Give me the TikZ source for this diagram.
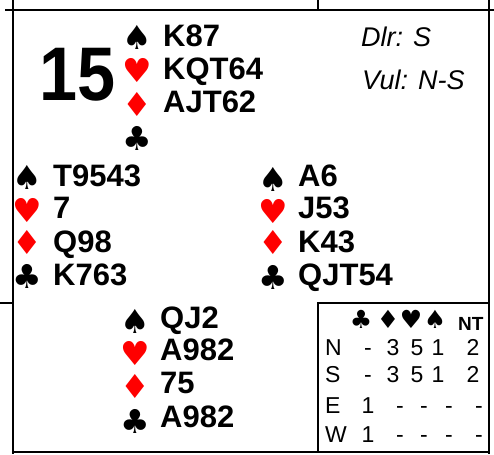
\documentclass[tikz,border=0pt]{standalone}
\usepackage{fontspec}
\setmainfont{Liberation Sans}
\newfontfamily\suitfamily{DejaVu Sans}
\usepackage{tikz}

\newcommand{\handfont}{\fontsize{31}{31}\selectfont\bfseries}
\newcommand{\suitfont}{\suitfamily\fontsize{33}{33}\selectfont}
\newcommand{\infofont}{\fontsize{27}{27}\selectfont\itshape}
\newcommand{\tabfont}{\fontsize{23}{23}\selectfont}
\newcommand{\tabsuitfont}{\suitfamily\fontsize{25}{25}\selectfont}

\tikzset{
    frame/.style={line width=1.6pt},
    hand/.style={font=\handfont, anchor=base west, inner sep=0pt},
    suit/.style={font=\suitfont, inner sep=0pt},
    redsuit/.style={suit, text=red},
    info/.style={font=\infofont, anchor=base west, inner sep=0pt},
    tab/.style={font=\tabfont, anchor=base, inner sep=0pt},
    tabsuit/.style={font=\tabsuitfont, inner sep=0pt},
}

\begin{document}
\begin{tikzpicture}[x=1pt,y=-1pt]
        \useasboundingbox (0,0) rectangle (494,454);

        % Frame of the deal
        \draw[frame] (5,10) -- (494,10);
        \draw[frame] (13,0) -- (13,454);
        \draw[frame] (489,0) -- (489,454);
        \draw[frame] (318,0) -- (318,10);
        \draw[frame] (0,303) -- (13,303);
        \draw[frame] (13,452) -- (489,452);

        % Box of the makeable contracts
        \draw[frame] (318,452) -- (318,303) -- (489,303);

        % Board number
        \node[font=\fontsize{76}{76}\selectfont\bfseries, inner sep=0pt,
              transform shape, xscale=0.9] (board) at (78,75) {15};

        % Dealer and vulnerability
        \node[info] (dealer) at (361,47) {Dlr: S};
        \node[info] (vul) at (362,90) {Vul: N-S};

        % North hand
        \node[suit] (NS) at (137,37) {♠};
        \node[redsuit] (NH) at (137,70) {♥};
        \node[redsuit] (ND) at (137,104) {♦};
        \node[suit] (NC) at (137,138) {♣};
        \node[hand] (Nspades) at (163,47) {K87};
        \node[hand] (Nhearts) at (163,80) {KQT64};
        \node[hand] (Ndiamonds) at (163,113) {AJT62};

        % West hand
        \node[suit] (WS) at (27,177) {♠};
        \node[redsuit] (WH) at (27,210) {♥};
        \node[redsuit] (WD) at (27,242) {♦};
        \node[suit] (WC) at (27,276) {♣};
        \node[hand] (Wspades) at (53,186) {T9543};
        \node[hand] (Whearts) at (53,218) {7};
        \node[hand] (Wdiamonds) at (53,252) {Q98};
        \node[hand] (Wclubs) at (53,285) {K763};

        % East hand
        \node[suit] (ES) at (273,179) {♠};
        \node[redsuit] (EH) at (273,211) {♥};
        \node[redsuit] (ED) at (273,242) {♦};
        \node[suit] (EC) at (273,277) {♣};
        \node[hand] (Espades) at (298,186) {A6};
        \node[hand] (Ehearts) at (298,218) {J53};
        \node[hand] (Ediamonds) at (298,252) {K43};
        \node[hand] (Eclubs) at (298,285) {QJT54};

        % South hand
        \node[suit] (SS) at (135,321) {♠};
        \node[redsuit] (SH) at (135,353) {♥};
        \node[redsuit] (SD) at (135,386) {♦};
        \node[suit] (SC) at (135,421) {♣};
        \node[hand] (Sspades) at (160,328) {QJ2};
        \node[hand] (Shearts) at (160,360) {A982};
        \node[hand] (Sdiamonds) at (160,393) {75};
        \node[hand] (Sclubs) at (160,427) {A982};

        % Header of the table
        \node[tabsuit] (TC) at (361,319) {♣};
        \node[tabsuit] (TD) at (388,319) {♦};
        \node[tabsuit] (TH) at (411,319) {♥};
        \node[tabsuit] (TS) at (435,319) {♠};
        \node[font=\fontsize{19}{19}\selectfont\bfseries, anchor=base west, inner sep=0pt] (TNT) at (458,330) {NT};

        % Rows of the table
        \node[tab, anchor=base west] (rowN) at (325,355) {N};
        \node[tab] (N1) at (368,355) {-};
        \node[tab] (N2) at (393,355) {3};
        \node[tab] (N3) at (417,355) {5};
        \node[tab] (N4) at (438,355) {1};
        \node[tab] (N5) at (473,355) {2};

        \node[tab, anchor=base west] (rowS) at (325,382) {S};
        \node[tab] (S1) at (368,382) {-};
        \node[tab] (S2) at (393,382) {3};
        \node[tab] (S3) at (417,382) {5};
        \node[tab] (S4) at (438,382) {1};
        \node[tab] (S5) at (473,382) {2};

        \node[tab, anchor=base west] (rowE) at (325,413) {E};
        \node[tab] (E1) at (368,413) {1};
        \node[tab] (E2) at (400,413) {-};
        \node[tab] (E3) at (424,413) {-};
        \node[tab] (E4) at (449,413) {-};
        \node[tab] (E5) at (479,413) {-};

        \node[tab, anchor=base west] (rowW) at (325,442) {W};
        \node[tab] (W1) at (368,442) {1};
        \node[tab] (W2) at (400,442) {-};
        \node[tab] (W3) at (424,442) {-};
        \node[tab] (W4) at (449,442) {-};
        \node[tab] (W5) at (479,442) {-};
    \end{tikzpicture}
\end{document}
